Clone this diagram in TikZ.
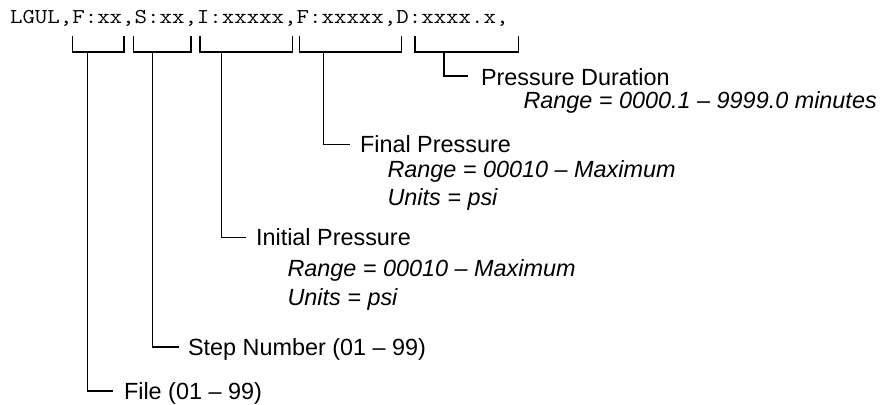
\documentclass[tikz,border=0pt]{standalone}
\usepackage{fontspec}
\setmainfont{Liberation Sans}
\newfontfamily\cmdfont[FakeStretch=1.143]{Latin Modern Mono}
\begin{document}
\begin{tikzpicture}[x=1pt,y=-1pt,line width=1.1pt,line join=miter,
  lbl/.style={anchor=base west,inner sep=0pt,font=\fontsize{23.4}{28}\selectfont},
  sub/.style={anchor=base west,inner sep=0pt,font=\fontsize{23.4}{28}\selectfont\itshape},
  cmdtext/.style={anchor=base west,inner sep=0pt,font=\cmdfont\fontsize{21.17}{25}\selectfont},
  brk/.style={line width=1.1pt},
  elbow/.style={line width=1.1pt}]
\useasboundingbox (0,0) rectangle (885,404);

% command string
\node[cmdtext] (cmd) at (9.5,24) {LGUL,F:xx,S:xx,I:xxxxx,F:xxxxx,D:xxxx.x,};

% brackets under the fields
\draw[brk] (72.7,36) -- (72.7,52) -- (124,52) -- (124,36);
\draw[brk] (133.3,36) -- (133.3,52) -- (191,52) -- (191,36);
\draw[brk] (200,36) -- (200,52) -- (292.7,52) -- (292.7,36);
\draw[brk] (299.3,36) -- (299.3,52) -- (401.7,52) -- (401.7,36);
\draw[brk] (415,36) -- (415,52) -- (518.3,52) -- (518.3,36);

% stem start points
\coordinate (s1) at (87.3,52);
\coordinate (s2) at (152.3,52);
\coordinate (s3) at (221.7,52);
\coordinate (s4) at (323.3,52);
\coordinate (s5) at (444,52);

% labels
\node[lbl] (file) at (123.5,399) {File (01 – 99)};
\node[lbl] (step) at (187.5,355) {Step Number (01 – 99)};
\node[lbl] (init) at (255.5,245.5) {Initial Pressure};
\node[sub] (initr) at (287,276) {Range = 00010 – Maximum};
\node[sub] (initu) at (287,305) {Units = psi};
\node[lbl] (fin) at (359.5,152.5) {Final Pressure};
\node[sub] (finr) at (387,177.5) {Range = 00010 – Maximum};
\node[sub] (finu) at (387,205.5) {Units = psi};
\node[lbl] (dur) at (480.5,85) {Pressure Duration};
\node[sub] (durr) at (523,108) {Range = 0000.1 – 9999.0 minutes};

% elbow connectors
\draw[elbow] (s1) |- ([xshift=-11pt,yshift=8pt]file.base west);
\draw[elbow] (s2) |- ([xshift=-9pt,yshift=8pt]step.base west);
\draw[elbow] (s3) |- ([xshift=-10pt,yshift=8pt]init.base west);
\draw[elbow] (s4) |- ([xshift=-10pt,yshift=8pt]fin.base west);
\draw[elbow] (s5) |- ([xshift=-13pt,yshift=9pt]dur.base west);
\end{tikzpicture}
\end{document}
